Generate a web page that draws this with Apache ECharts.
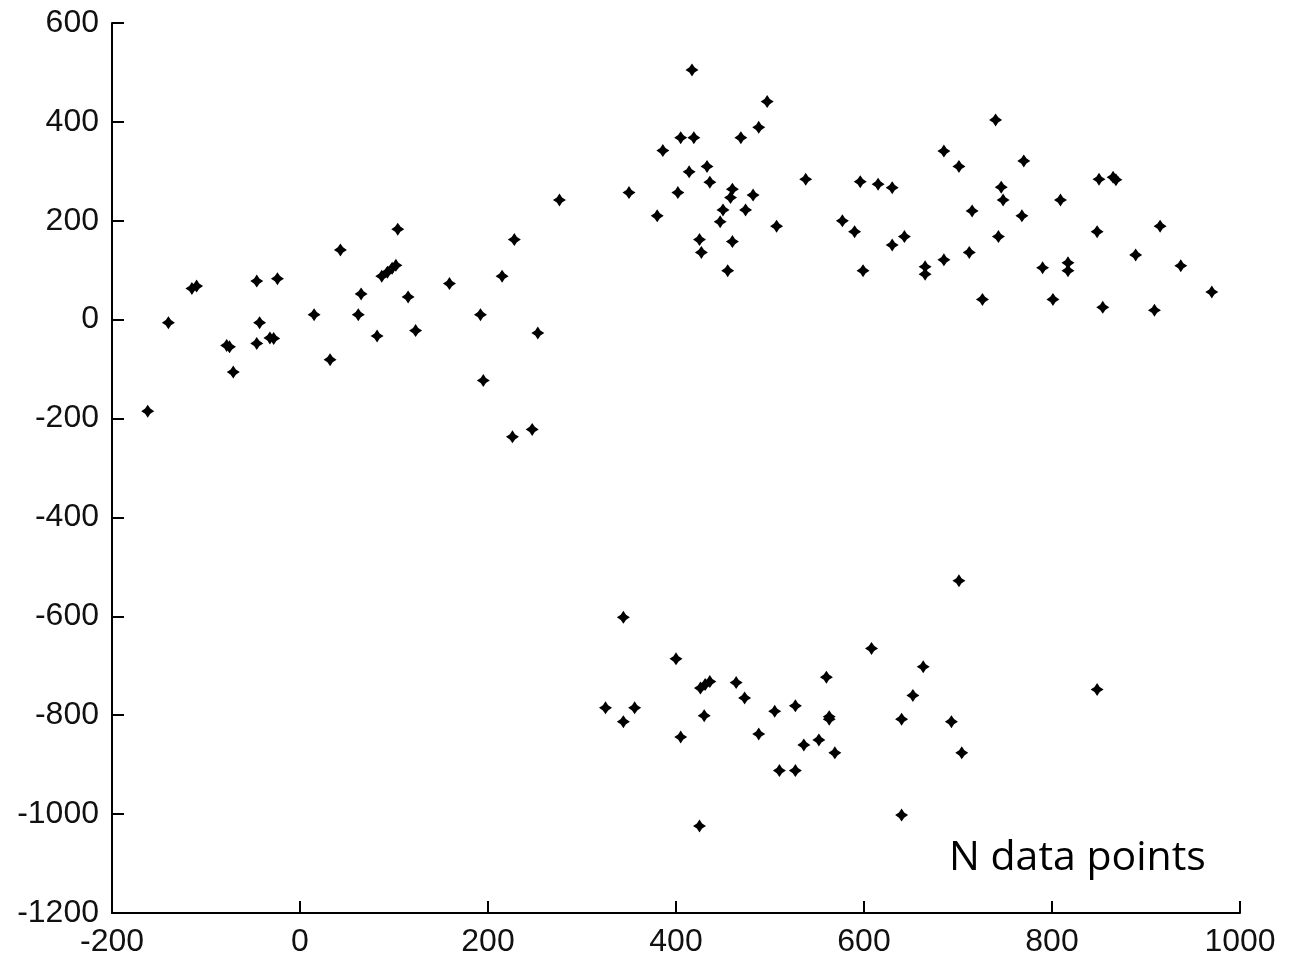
<!DOCTYPE html>
<html>
<head>
<meta charset="utf-8">
<script src="https://cdn.jsdelivr.net/npm/echarts@6/dist/echarts.min.js"></script>
<style>
  html, body { margin: 0; padding: 0; background: #fff; }
  #chart { width: 1293px; height: 960px; }
</style>
</head>
<body>
<div id="chart"></div>
<script>
// left cluster
const leftX = [-162, -140, -115, -110, -78, -75, -71, -46, -43, -46, -32, -28, -24, 15, 32, 43, 62, 65, 82, 87, 93, 98, 102, 104, 115, 123, 159, 192, 195, 215, 228, 253, 226, 247, 276];
const leftY = [-185, -6, 63, 68, -52, -55, -106, 78, -6, -48, -37, -38, 83, 10, -81, 141, 10, 52, -33, 88, 96, 104, 110, 183, 46, -22, 73, 10, -123, 88, 162, -27, -237, -222, 242];

// upper right cluster
const upperX = [350, 380, 386, 402, 405, 419, 414, 417, 433, 436, 469, 460, 458, 482, 450, 474, 447, 425, 427, 460, 455, 497, 488, 507, 538, 577, 590, 596, 599, 615, 630, 630, 643, 665, 665, 685, 685, 701, 712, 715, 726, 740, 746, 748, 743, 770, 768, 790, 801, 809, 817, 817, 848, 850, 865, 868, 854, 889, 915, 909, 937, 970];
const upperY = [257, 210, 342, 257, 368, 368, 299, 505, 310, 278, 368, 264, 247, 252, 222, 222, 198, 162, 136, 158, 99, 441, 389, 189, 284, 200, 178, 279, 99, 274, 267, 151, 168, 107, 92, 121, 341, 310, 136, 220, 41, 404, 268, 242, 168, 321, 210, 105, 41, 242, 115, 99, 178, 284, 288, 283, 25, 131, 189, 19, 109, 56];

// lower cluster
const lowerX = [325, 344, 344, 356, 400, 405, 426, 431, 436, 430, 425, 464, 473, 488, 505, 510, 527, 527, 536, 552, 560, 563, 563, 569, 608, 640, 640, 652, 663, 693, 701, 704, 848];
const lowerY = [-785, -602, -813, -785, -686, -844, -745, -738, -732, -801, -1024, -734, -765, -838, -792, -912, -781, -912, -860, -850, -723, -803, -808, -876, -665, -808, -1002, -760, -702, -813, -528, -876, -748];

const noteText = 'N data points';

function pairs(xs, ys) {
  return xs.map((x, i) => [x, ys[i]]);
}
const points = [].concat(pairs(leftX, leftY), pairs(upperX, upperY), pairs(lowerX, lowerY));

const chart = echarts.init(document.getElementById('chart'));

const axisCommon = {
  type: 'value',
  interval: 200,
  axisLine: { show: true, onZero: false, lineStyle: { color: '#000', width: 2 } },
  axisTick: { show: true, inside: true, length: 12, lineStyle: { color: '#000', width: 2 } },
  axisLabel: {
    color: '#111', fontSize: 32, fontFamily: 'Liberation Sans',
    formatter: v => String(v)
  },
  splitLine: { show: false }
};

chart.setOption({
  animation: false,
  backgroundColor: '#fff',
  grid: { left: 112, right: 53, top: 23, bottom: 47 },
  xAxis: Object.assign({}, axisCommon, {
    min: -200, max: 1000,
    axisLabel: Object.assign({}, axisCommon.axisLabel, { margin: 13 })
  }),
  yAxis: Object.assign({}, axisCommon, {
    min: -1200, max: 600,
    axisLabel: Object.assign({}, axisCommon.axisLabel, { margin: 13 })
  }),
  series: [{
    type: 'scatter',
    data: points,
    // diamond with slightly pinched sides
    symbol: 'path://M5,0 L7,3 L10,5 L7,7 L5,10 L3,7 L0,5 L3,3 Z',
    symbolSize: 13,
    itemStyle: { color: '#000', opacity: 1 }
  }],
  graphic: [{
    type: 'text',
    left: 949,
    top: 838,
    style: { text: noteText, fontSize: 41, fontFamily: 'Open Sans', fill: '#000' }
  }]
});
</script>
</body>
</html>
